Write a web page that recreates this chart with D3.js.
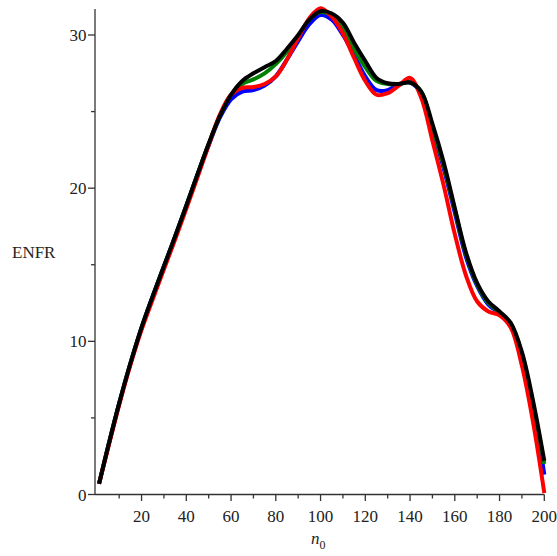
<!DOCTYPE html>
<html>
<head>
<meta charset="utf-8">
<script src="https://cdn.jsdelivr.net/npm/d3@7/dist/d3.min.js"></script>
<style>
  html, body { margin: 0; padding: 0; background: #fff; }
  svg { display: block; }
  text { font-family: "Liberation Serif", "Times New Roman", serif; fill: #222; }
</style>
</head>
<body>
<script>
// ---- data ----
const n0 = [1,5,10,15,20,25,30,35,40,45,50,55,60,65,70,75,80,85,90,95,100,105,110,115,120,125,130,135,140,145,150,155,160,165,170,175,180,185,190,195,200];

const blueVals  = [0.7,3.1,5.95,8.55,10.9,12.95,14.9,16.85,18.85,20.9,22.8,24.6,25.8,26.3,26.4,26.7,27.3,28.4,29.6,30.7,31.3,31.0,30.0,28.7,27.3,26.4,26.4,26.8,26.9,26.2,23.8,21.3,18.4,15.5,13.6,12.4,11.85,11.1,9.1,5.8,1.3];
const greenVals = [0.7,3.1,5.95,8.55,10.9,12.95,14.9,16.85,18.85,20.9,22.9,24.7,26.1,26.8,27.1,27.5,28.1,28.9,29.9,31.0,31.5,31.3,30.5,29.1,27.9,27.0,26.8,26.8,26.9,26.3,24.0,21.5,18.6,15.7,13.7,12.5,11.9,11.15,9.2,5.9,2.0];
const redVals   = [0.7,3.0,5.85,8.45,10.75,12.75,14.7,16.65,18.65,20.7,22.8,24.8,26.1,26.55,26.6,26.8,27.3,28.4,29.8,31.1,31.75,31.2,30.1,28.5,27.0,26.1,26.2,26.7,27.2,25.9,23.1,20.2,17.0,14.3,12.6,11.95,11.7,10.9,8.4,4.7,0.1];
const blackVals = [0.7,3.1,5.95,8.55,10.9,12.95,14.9,16.85,18.85,20.9,22.9,24.7,26.1,27.0,27.5,27.9,28.3,29.1,30.0,31.0,31.55,31.4,30.8,29.5,28.3,27.2,26.85,26.8,26.9,26.3,24.2,21.7,18.7,15.8,13.8,12.6,11.95,11.2,9.3,6.1,2.2];

const xMajorTicks = [20,40,60,80,100,120,140,160,180,200];
const xMinorTicks = [10,30,50,70,90,110,130,150,170,190];
const yMajorTicks = [0,10,20,30];
const yMinorTicks = [5,15,25];

const series = [
  {name: "blue",  color: "#0000ff", values: blueVals},
  {name: "green", color: "#008000", values: greenVals},
  {name: "red",   color: "#ff0000", values: redVals},
  {name: "black", color: "#000000", values: blackVals}
];

// ---- layout ----
const W = 557, H = 556;
const svg = d3.select("body").append("svg").attr("width", W).attr("height", H);

const x = d3.scaleLinear().domain([0, 200]).range([96.8, 544.3]);
const y = d3.scaleLinear().domain([0, 30]).range([494.5, 35]);

const axisColor = "#333";
const axisX0 = 95;     // y-axis position (px)
const axisTop = 9;

// x axis
const gx = svg.append("g").attr("transform", `translate(0,${y(0)})`);
gx.append("line").attr("x1", axisX0).attr("x2", x(200)).attr("y1", 0).attr("y2", 0)
  .attr("stroke", axisColor).attr("stroke-width", 1.3);
gx.selectAll("line.maj").data(xMajorTicks).enter().append("line")
  .attr("x1", d => x(d)).attr("x2", d => x(d)).attr("y1", 0).attr("y2", 6.5)
  .attr("stroke", axisColor).attr("stroke-width", 1.3);
gx.selectAll("line.min").data(xMinorTicks).enter().append("line")
  .attr("x1", d => x(d)).attr("x2", d => x(d)).attr("y1", 0).attr("y2", 4)
  .attr("stroke", axisColor).attr("stroke-width", 1.3);
gx.selectAll("text").data(xMajorTicks).enter().append("text")
  .attr("x", d => x(d)).attr("y", 27.5).attr("text-anchor", "middle")
  .attr("font-size", 17).text(d => d);

// y axis
const gy = svg.append("g");
gy.append("line").attr("x1", axisX0).attr("x2", axisX0).attr("y1", y(0)).attr("y2", axisTop)
  .attr("stroke", axisColor).attr("stroke-width", 1.3);
gy.selectAll("line.maj").data(yMajorTicks).enter().append("line")
  .attr("x1", axisX0 - 7).attr("x2", axisX0).attr("y1", d => y(d)).attr("y2", d => y(d))
  .attr("stroke", axisColor).attr("stroke-width", 1.3);
gy.selectAll("line.min").data(yMinorTicks).enter().append("line")
  .attr("x1", axisX0 - 4).attr("x2", axisX0).attr("y1", d => y(d)).attr("y2", d => y(d))
  .attr("stroke", axisColor).attr("stroke-width", 1.3);
gy.selectAll("text").data(yMajorTicks).enter().append("text")
  .attr("x", 86.5).attr("y", d => y(d) + 6).attr("text-anchor", "end")
  .attr("font-size", 17).text(d => d);

// axis labels
svg.append("text").attr("x", 12).attr("y", 258).attr("font-size", 17).text("ENFR");
const xl = svg.append("text").attr("x", 311).attr("y", 544).attr("font-size", 17);
xl.append("tspan").attr("font-style", "italic").text("n");
xl.append("tspan").attr("font-size", 12).attr("dy", 5).text("0");

// curves
const line = d3.line()
  .x((d, i) => x(n0[i]))
  .y(d => y(d))
  .curve(d3.curveCatmullRom.alpha(0.5));

svg.selectAll("path.series").data(series).enter().append("path")
  .attr("class", "series")
  .attr("d", d => line(d.values))
  .attr("fill", "none")
  .attr("stroke", d => d.color)
  .attr("stroke-width", 4);
</script>
</body>
</html>
